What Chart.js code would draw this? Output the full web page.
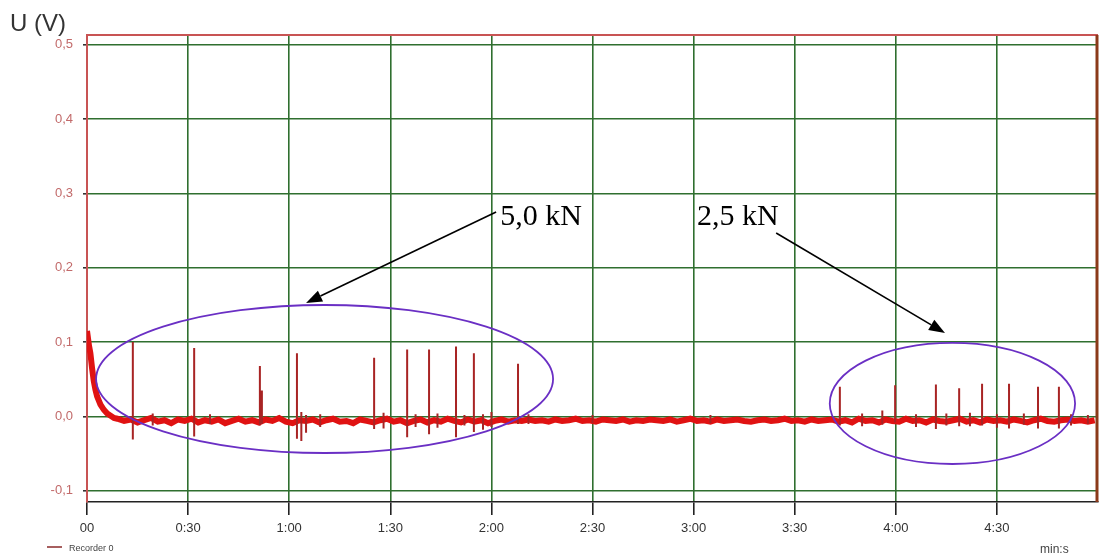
<!DOCTYPE html>
<html>
<head>
<meta charset="utf-8">
<title>U (V) - Recorder 0</title>
<script src="https://cdn.jsdelivr.net/npm/chart.js@4.4.1/dist/chart.umd.min.js"></script>
<style>
  body { margin: 0; background: #fff; }
  canvas { display: block; }
</style>
</head>
<body>
<canvas id="chart" width="1099" height="555"></canvas>
<script>
// axis ticks
const xTickValues = [0, 30, 60, 90, 120, 150, 180, 210, 240, 270];
const xTickLabels = ["00", "0:30", "1:00", "1:30", "2:00", "2:30", "3:00", "3:30", "4:00", "4:30"];
const yTickValues = [-0.1, 0, 0.1, 0.2, 0.3, 0.4, 0.5];
const yTickLabels = ["-0,1", "0,0", "0,1", "0,2", "0,3", "0,4", "0,5"];

// start-up decay (seconds, volts)
const decayTimes = [0, 0.3, 0.6, 1.0, 1.5, 2.0, 2.5, 3.0, 4.0, 5.0, 6.0, 8.0];
const decayValues = [0.115, 0.105, 0.095, 0.085, 0.065, 0.048, 0.036, 0.027, 0.016, 0.009, 0.004, -0.002];

// baseline samples, one every 2 s starting at 9 s
const baseStart = 9;
const baseStep = 2;
const baseValues = [
  -0.003, -0.006, -0.004, -0.008, -0.005, -0.002, -0.007, -0.005, -0.009, -0.004,
  -0.006, -0.003, -0.008, -0.005, -0.007, -0.004, -0.009, -0.006, -0.003, -0.007,
  -0.005, -0.008, -0.004, -0.006, -0.002, -0.007, -0.009, -0.005, -0.006, -0.004,
  -0.008, -0.005, -0.003, -0.007, -0.006, -0.009, -0.004, -0.006, -0.008, -0.005,
  -0.003, -0.007, -0.005, -0.009, -0.006, -0.004, -0.008, -0.005, -0.007, -0.003,
  -0.006, -0.008, -0.004, -0.007, -0.005, -0.009, -0.006, -0.004, -0.007, -0.005,
  -0.006,
  -0.004, -0.006, -0.005, -0.007, -0.004, -0.006, -0.005, -0.003, -0.006, -0.005,
  -0.007, -0.004, -0.005, -0.006, -0.004, -0.007, -0.005, -0.006, -0.004, -0.005,
  -0.006, -0.004, -0.007, -0.005, -0.003, -0.006, -0.005, -0.007, -0.004, -0.006,
  -0.005, -0.004, -0.006, -0.007, -0.005, -0.004, -0.006, -0.005, -0.003, -0.006,
  -0.005, -0.007, -0.004, -0.006, -0.005,
  -0.004, -0.007, -0.005, -0.008, -0.003, -0.006, -0.005, -0.008, -0.004, -0.006,
  -0.007, -0.003, -0.006, -0.005, -0.008, -0.004, -0.006, -0.007, -0.005, -0.003,
  -0.007, -0.005, -0.008, -0.004, -0.006, -0.005, -0.007, -0.004, -0.006, -0.008,
  -0.005, -0.003, -0.006, -0.007, -0.005, -0.004, -0.006, -0.005, -0.007, -0.005
];

// load spikes: 5,0 kN group then 2,5 kN group
const spikeTimes = [13.6, 31.8, 51.3, 51.9, 62.3, 85.2, 95.0, 101.5, 109.5, 114.8, 127.9,
                    223.4, 239.8, 251.9, 258.8, 265.6, 273.6, 282.2, 288.4];
const spikePeaks = [0.100, 0.092, 0.068, 0.035, 0.085, 0.079, 0.090, 0.090, 0.094, 0.085, 0.071,
                    0.040, 0.042, 0.043, 0.038, 0.044, 0.044, 0.040, 0.040];
const spikeDips = [-0.031, -0.027, -0.012, -0.010, -0.030, -0.017, -0.028, -0.024, -0.028, -0.021, -0.010,
                   -0.012, -0.008, -0.017, -0.013, -0.012, -0.016, -0.016, -0.016];

// small glitches in the trace
const glitchTimes = [19.5, 36.5, 63.6, 65.0, 69.2, 88.0, 97.5, 104.0, 112.0, 117.5, 120.0, 131.0,
                     150.0, 185.0, 230.0, 236.0, 246.0, 255.0, 262.0, 270.0, 278.0, 292.0, 297.0];
const glitchLows = [-0.012, -0.010, -0.033, -0.022, -0.014, -0.016, -0.014, -0.015, -0.012, -0.018, -0.014, -0.010,
                    -0.009, -0.009, -0.013, -0.011, -0.014, -0.012, -0.013, -0.015, -0.011, -0.012, -0.010];
const glitchHighs = [0.004, 0.003, 0.006, 0.002, 0.003, 0.005, 0.003, 0.004, 0.002, 0.003, 0.006, 0.003,
                     0.002, 0.002, 0.004, 0.008, 0.003, 0.004, 0.005, 0.003, 0.004, 0.003, 0.002];

// build the datasets
let bandPoints = [];
decayTimes.forEach((t, i) => bandPoints.push({ x: t, y: decayValues[i] }));
baseValues.forEach((v, i) => bandPoints.push({ x: baseStart + i * baseStep, y: v }));

let spikePoints = [];
spikeTimes.forEach((t, i) => {
  spikePoints.push({ x: t, y: spikeDips[i] }, { x: t, y: spikePeaks[i] }, { x: t, y: null });
});
glitchTimes.forEach((t, i) => {
  spikePoints.push({ x: t, y: glitchLows[i] }, { x: t, y: glitchHighs[i] }, { x: t, y: null });
});

// annotations, in data units (seconds, volts)
const notes = [
  { text: "5,0 kN", x: 122.6, y: 0.2575, from: [121.4, 0.275], to: [65.0, 0.1526],
    ellipse: { cx: 70.5, cy: 0.0504, rx: 67.8, ry: 0.0995 } },
  { text: "2,5 kN", x: 181.0, y: 0.2575, from: [204.5, 0.2468], to: [254.6, 0.1123],
    ellipse: { cx: 256.8, cy: 0.0175, rx: 36.4, ry: 0.0814 } }
];

const gridGreen = "#2f6f2f";
const frameRed = "#c85454";

const extras = {
  id: "extras",
  afterDatasetsDraw(chart) {
    const ctx = chart.ctx;
    const sx = chart.scales.x, sy = chart.scales.y;
    ctx.save();
    notes.forEach(n => {
      // ellipse
      const e = n.ellipse;
      const cx = sx.getPixelForValue(e.cx), cy = sy.getPixelForValue(e.cy);
      const rx = sx.getPixelForValue(e.cx + e.rx) - cx;
      const ry = cy - sy.getPixelForValue(e.cy + e.ry);
      ctx.beginPath();
      ctx.ellipse(cx, cy, rx, ry, 0, 0, Math.PI * 2);
      ctx.strokeStyle = "#6a2fc4";
      ctx.lineWidth = 1.8;
      ctx.stroke();

      // arrow
      const x1 = sx.getPixelForValue(n.from[0]), y1 = sy.getPixelForValue(n.from[1]);
      const x2 = sx.getPixelForValue(n.to[0]), y2 = sy.getPixelForValue(n.to[1]);
      const ang = Math.atan2(y2 - y1, x2 - x1);
      const headLen = 16, headW = 6;
      const bx = x2 - headLen * Math.cos(ang), by = y2 - headLen * Math.sin(ang);
      ctx.beginPath();
      ctx.moveTo(x1, y1);
      ctx.lineTo(bx, by);
      ctx.strokeStyle = "#000";
      ctx.lineWidth = 1.6;
      ctx.stroke();
      ctx.beginPath();
      ctx.moveTo(x2, y2);
      ctx.lineTo(bx + headW * Math.sin(ang), by - headW * Math.cos(ang));
      ctx.lineTo(bx - headW * Math.sin(ang), by + headW * Math.cos(ang));
      ctx.closePath();
      ctx.fillStyle = "#000";
      ctx.fill();

      // label
      ctx.font = '30px "Liberation Serif", "Times New Roman", serif';
      ctx.textAlign = "left";
      ctx.textBaseline = "alphabetic";
      ctx.fillText(n.text, sx.getPixelForValue(n.x), sy.getPixelForValue(n.y));
    });
    ctx.restore();
  },
  afterDraw(chart) {
    const ctx = chart.ctx;
    const a = chart.chartArea;
    ctx.save();
    // top and right frame
    ctx.strokeStyle = frameRed;
    ctx.lineWidth = 2;
    ctx.beginPath();
    ctx.moveTo(a.left, a.top);
    ctx.lineTo(a.right, a.top);
    ctx.stroke();
    ctx.strokeStyle = "#8b3a1a";
    ctx.lineWidth = 3;
    ctx.beginPath();
    ctx.moveTo(a.right - 1, a.top);
    ctx.lineTo(a.right - 1, a.bottom);
    ctx.stroke();

    // axis titles
    ctx.fillStyle = "#333";
    ctx.font = '24px "Liberation Sans", Arial, sans-serif';
    ctx.textAlign = "left";
    ctx.textBaseline = "alphabetic";
    ctx.fillText("U (V)", 10, 31);
    ctx.font = '12px "Liberation Sans", Arial, sans-serif';
    ctx.fillStyle = "#444";
    ctx.fillText("min:s", 1040, 553);

    // legend
    ctx.strokeStyle = "#8a2a2a";
    ctx.lineWidth = 1.5;
    ctx.beginPath();
    ctx.moveTo(47, 547);
    ctx.lineTo(62, 547);
    ctx.stroke();
    ctx.fillStyle = "#444";
    ctx.font = '9px "Liberation Sans", Arial, sans-serif';
    ctx.fillText("Recorder 0", 69, 551);
    ctx.restore();
  }
};

const ctx = document.getElementById("chart").getContext("2d");

new Chart(ctx, {
  type: "line",
  data: {
    datasets: [
      {
        label: "spikes",
        data: spikePoints,
        borderColor: "#a82424",
        borderWidth: 2,
        pointRadius: 0,
        spanGaps: false,
        order: 0,
      },
      {
        label: "Recorder 0",
        data: bandPoints,
        borderColor: "#e01212",
        borderWidth: 6,
        pointRadius: 0,
        tension: 0,
        order: 1,
      },
    ],
  },
  options: {
    responsive: false,
    animation: false,
    devicePixelRatio: 1,
    layout: { padding: { top: 35, right: 1, left: 0, bottom: 0 } },
    plugins: {
      legend: { display: false },
      tooltip: { enabled: false },
    },
    scales: {
      x: {
        type: "linear",
        min: 0,
        max: 300,
        afterBuildTicks: (scale) => {
          scale.ticks = xTickValues.map(v => ({ value: v }));
        },
        afterFit: (scale) => { scale.height = 53; },
        ticks: {
          autoSkip: false,
          maxRotation: 0,
          padding: 6,
          color: "#333",
          font: { family: '"Liberation Sans", Arial, sans-serif', size: 13 },
          callback: (value, index) => xTickLabels[index],
        },
        grid: {
          color: gridGreen,
          lineWidth: 1.6,
          tickColor: "#222",
          tickLength: 13,
          tickWidth: 1.6,
        },
        border: { color: "#222", width: 1.6 },
      },
      y: {
        min: -0.115,
        max: 0.513,
        afterBuildTicks: (scale) => {
          scale.ticks = yTickValues.map(v => ({ value: v }));
        },
        afterFit: (scale) => { scale.width = 87; },
        ticks: {
          padding: 10,
          color: "#c26a6a",
          font: { family: '"Liberation Sans", Arial, sans-serif', size: 13 },
          callback: (value, index) => yTickLabels[index],
        },
        grid: {
          color: gridGreen,
          lineWidth: 1.6,
          tickColor: "#333",
          tickLength: 4,
        },
        border: { color: frameRed, width: 2 },
      },
    },
  },
  plugins: [extras],
});
</script>
</body>
</html>
